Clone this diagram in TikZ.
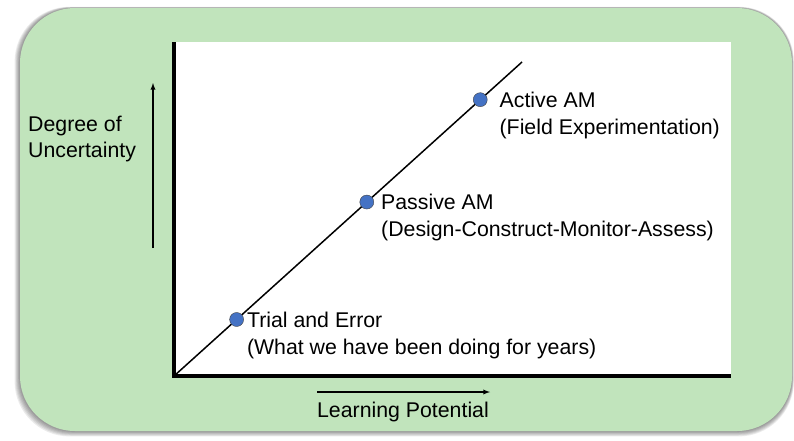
\documentclass[tikz,border=0pt]{standalone}
\usepackage{fontspec}
\setmainfont{Liberation Sans}
\usetikzlibrary{calc,arrows,positioning}
\definecolor{panelgreen}{RGB}{193,228,188}
\definecolor{dotblue}{RGB}{68,114,196}
\tikzset{panel/.style={fill=panelgreen, rounded corners=55pt}, axis/.style={line width=4pt}, dot/.style={circle, draw=black!75, thin, fill=dotblue, minimum size=14pt, inner sep=0pt}, lbl/.style={font=\fontsize{21.3}{26}\selectfont, inner sep=0pt, text=black}, hint/.style={line width=1.3pt, -latex}}

\begin{document}
\begin{tikzpicture}[x=1pt,y=-1pt]
    \useasboundingbox (0,0) rectangle (794,440);
    \foreach \i in {1,...,6}
        \fill[black, opacity=0.08, rounded corners=55pt] (20-\i*0.9,8-\i*0.2) rectangle (792+\i*0.3,431+\i*0.9);
    \fill[panel] (20,8) rectangle (792,431);
    \fill[white] (174,42) rectangle (731,376);
    \coordinate (O) at (174,376);
    \coordinate (ytop) at (174,42);
    \coordinate (xend) at (731,376);
    \coordinate (lineend) at (522,62);
    \draw[axis] (ytop) -- (O) -- (xend);
    \draw[line width=1.5pt] (O) -- (lineend)
        node[dot, pos=0.18] (te) {}
        node[dot, pos=0.554] (pam) {}
        node[dot, pos=0.88] (aam) {};
    \node[lbl, right=3pt of te] (te-title) {Trial and Error};
    \node[lbl, anchor=base west] (te-note) at ($(te-title.base west)+(0,27)$) {(What we have been doing for years)};
    \node[lbl, right=7pt of pam] (pam-title) {Passive AM};
    \node[lbl, anchor=base west] (pam-note) at ($(pam-title.base west)+(0,27)$) {(Design-Construct-Monitor-Assess)};
    \node[lbl, right=12pt of aam] (aam-title) {Active AM};
    \node[lbl, anchor=base west] (aam-note) at ($(aam-title.base west)+(0,27)$) {(Field Experimentation)};
    \node[lbl, anchor=base west, align=left] (unc) at (28,157) {Degree of\\Uncertainty};
    \coordinate (unc-start) at (153,248);
    \coordinate (unc-end) at (153,83);
    \draw[hint] (unc-start) -- (unc-end);
    \node[lbl, anchor=base] (lp) at (403,417) {Learning Potential};
    \coordinate (lp-start) at (317,392);
    \coordinate (lp-end) at (490,392);
    \draw[hint] (lp-start) -- (lp-end);
\end{tikzpicture}
\end{document}
